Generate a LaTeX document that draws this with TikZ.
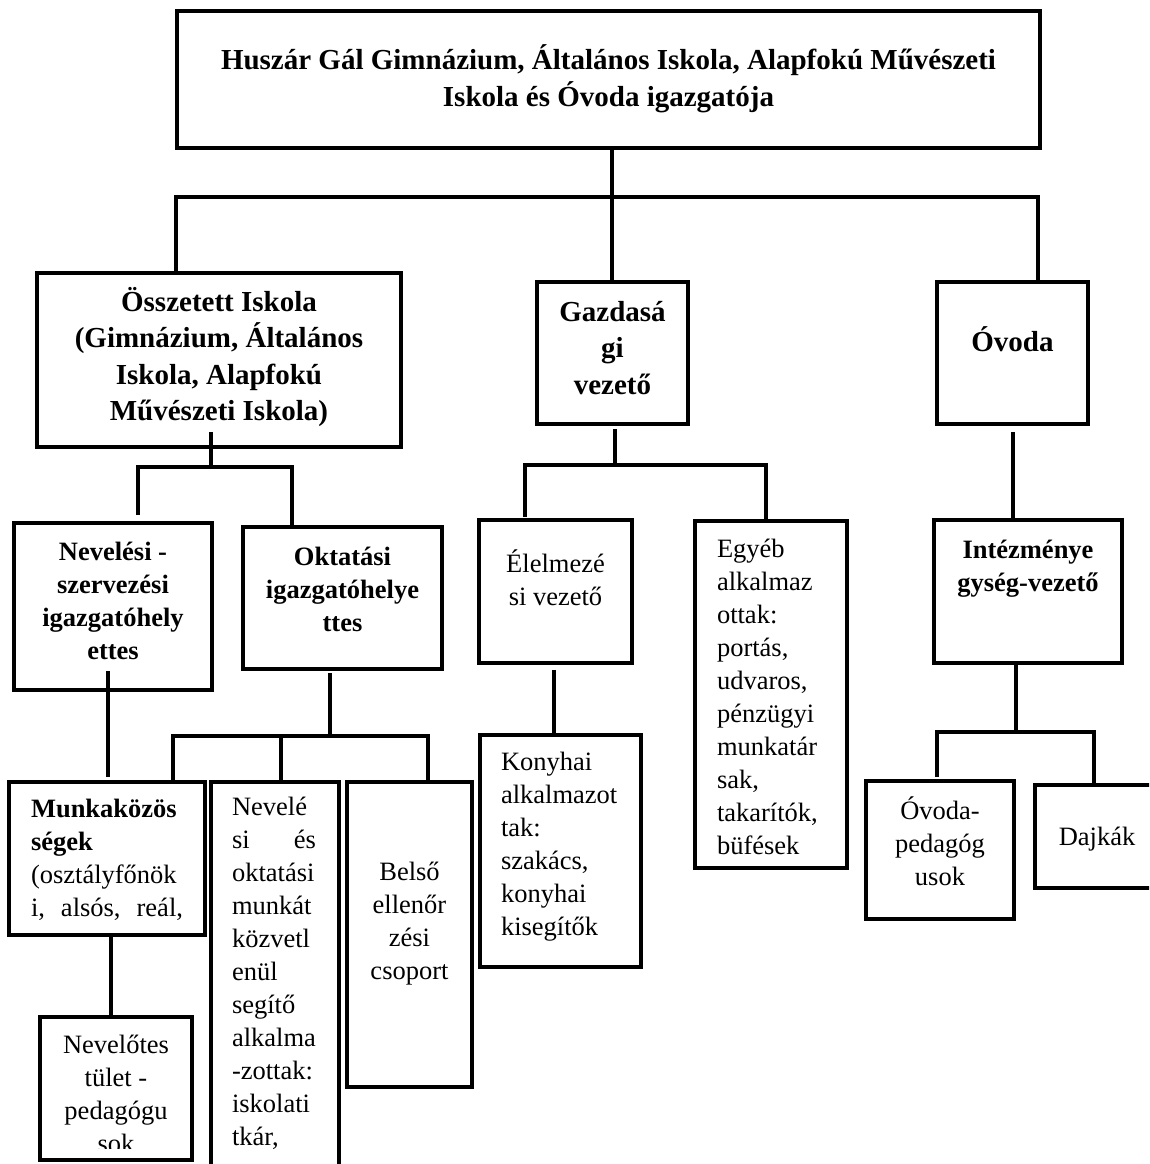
\documentclass[tikz,border=0pt]{standalone}
\usepackage{fontspec}
\setmainfont{Liberation Serif}
\newcommand{\fl}{\rule{0pt}{30pt}}
\tikzset{
  box/.style={draw, line width=4pt, rectangle, inner sep=0pt, outer sep=0pt},
  conn/.style={line width=4pt, line join=miter},
  big/.style={font=\fontsize{29}{36.5}\selectfont\bfseries, inner sep=0pt, outer sep=0pt, align=center, anchor=north},
  nb/.style={font=\fontsize{26.5}{33}\selectfont\bfseries, inner sep=0pt, outer sep=0pt, align=center, anchor=north},
  nr/.style={font=\fontsize{26.5}{33}\selectfont, inner sep=0pt, outer sep=0pt, align=center, anchor=north},
  nrl/.style={font=\fontsize{26.5}{33}\selectfont, inner sep=0pt, outer sep=0pt, align=left, anchor=north west},
}
\begin{document}
\begin{tikzpicture}[x=1pt, y=-1pt]
\useasboundingbox (0,0) rectangle (1149,1164);
\clip (0,0) rectangle (1149,1164);
\fill[white] (0,0) rectangle (1149,1164);

% boxes
\node[box, minimum width=863pt, minimum height=137pt] (top) at (608.5,79.5) {};
\node[box, minimum width=364pt, minimum height=174pt] (ossz) at (219,360) {};
\node[box, minimum width=151pt, minimum height=142pt] (gazd) at (612.5,353) {};
\node[box, minimum width=151pt, minimum height=142pt] (ovoda) at (1012.5,353) {};
\node[box, minimum width=198pt, minimum height=167pt] (nevsz) at (113,606.5) {};
\node[box, minimum width=199pt, minimum height=142pt] (oktat) at (342.5,598) {};
\node[box, minimum width=153pt, minimum height=143pt] (elelm) at (555.5,591.5) {};
\node[box, minimum width=152pt, minimum height=347pt] (egyeb) at (771,694.5) {};
\node[box, minimum width=188pt, minimum height=143pt] (intez) at (1028,591.5) {};
\node[box, minimum width=196pt, minimum height=153pt] (munka) at (107,858.5) {};
\node[box, minimum width=152pt, minimum height=143pt] (nevtest) at (116,1088.5) {};
\node[box, minimum width=128pt, minimum height=438pt] (nevokt) at (275,1001) {};
\node[box, minimum width=125pt, minimum height=305pt] (belso) at (409.5,934.5) {};
\node[box, minimum width=161pt, minimum height=232pt] (konyha) at (560.5,851) {};
\node[box, minimum width=148pt, minimum height=138pt] (ovped) at (940,850) {};
\node[box, minimum width=124pt, minimum height=103pt] (dajka) at (1097,836.5) {};

% texts
\node[big] (top-t) at (608.5,40) {\fl Huszár Gál Gimnázium, Általános Iskola, Alapfokú Művészeti\\Iskola és Óvoda igazgatója};
\node[big] (ossz-t) at (219,281) {\fl Összetett Iskola\\(Gimnázium, Általános\\Iskola, Alapfokú\\Művészeti Iskola)};
\node[big] (gazd-t) at (612.5,291) {\fl Gazdasá\\gi\\vezető};
\node[big] (ovoda-t) at (1012.5,321) {\fl Óvoda};
\node[nb] (nevsz-t) at (113,530) {\fl Nevelési -\\szervezési\\igazgatóhely\\ettes};
\node[nb] (oktat-t) at (342.5,535) {\fl Oktatási\\igazgatóhelye\\ttes};
\node[nr] (elelm-t) at (555.5,542) {\fl Élelmezé\\si vezető};
\node[nrl] (egyeb-t) at (717,527) {\fl Egyéb\\alkalmaz\\ottak:\\portás,\\udvaros,\\pénzügyi\\munkatár\\sak,\\takarítók,\\büfések};
\node[nb] (intez-t) at (1028,528) {\fl Intézménye\\gység-vezető};
\node[nrl] (munka-t) at (31,787) {\fl\textbf{Munkaközös}\\\textbf{ségek}\\(osztályfőnök\\\hbox to 152pt{i,\hfill alsós,\hfill reál,}};
\begin{scope}
\clip (40,1017) rectangle (192,1148);
\node[nr] (nevtest-t) at (116,1023) {\fl Nevelőtes\\tület -\\pedagógu\\sok};
\end{scope}
\node[nrl] (nevokt-t) at (232,785) {\fl Nevelé\\\hbox to 84pt{si\hfill és}\\oktatási\\munkát\\közvetl\\enül\\segítő\\alkalma\\-zottak:\\iskolati\\tkár,};
\node[nr] (belso-t) at (409.5,850) {\fl Belső\\ellenőr\\zési\\csoport};
\node[nrl] (konyha-t) at (501,740) {\fl Konyhai\\alkalmazot\\tak:\\szakács,\\konyhai\\kisegítők};
\node[nr] (ovped-t) at (940,789) {\fl Óvoda-\\pedagóg\\usok};
\node[nr] (dajka-t) at (1097,815) {\fl Dajkák};

% level 1 connectors
\coordinate (h1L) at (176,197);
\coordinate (h1M) at (612,197);
\coordinate (h1R) at (1038,197);
\draw[conn] (top.south -| h1M) -- (h1M);
\draw[conn] (ossz.north -| h1L) -- (h1L) -- (h1R) -- (ovoda.north -| h1R);
\draw[conn] (h1M) -- (gazd.north -| h1M);

% Osszetett
\coordinate (h2L) at (138,467);
\coordinate (h2M) at (211,467);
\coordinate (h2R) at (292,467);
\draw[conn] ([yshift=15pt]ossz.south -| h2M) -- (h2M);
\draw[conn, shorten <=8pt] (nevsz.north -| h2L) -- (h2L) -- (h2R) -- (oktat.north -| h2R);

% Gazdasagi
\coordinate (h3L) at (525,465);
\coordinate (h3M) at (615,465);
\coordinate (h3R) at (766,465);
\draw[conn, shorten <=5pt] (gazd.south -| h3M) -- (h3M);
\draw[conn, shorten <=3pt] (elelm.north -| h3L) -- (h3L) -- (h3R) -- (egyeb.north -| h3R);

% Ovoda
\coordinate (v4) at (1013,500);
\draw[conn, shorten <=8pt] (ovoda.south -| v4) -- (intez.north -| v4);

% Intezmenyegyseg
\coordinate (h5L) at (937,732);
\coordinate (h5M) at (1016,732);
\coordinate (h5R) at (1094,732);
\draw[conn] (intez.south -| h5M) -- (h5M);
\draw[conn, shorten <=4pt] (ovped.north -| h5L) -- (h5L) -- (h5R) -- (dajka.north -| h5R);

% Nevelesi-szervezesi
\coordinate (v6) at (108,700);
\draw[conn, shorten >=5pt] ([yshift=19pt]nevsz.south -| v6) -- (munka.north -| v6);

% Oktatasi
\coordinate (h7L) at (173,736);
\coordinate (h7M) at (330,736);
\coordinate (h7N) at (281,736);
\coordinate (h7R) at (428,736);
\draw[conn, shorten <=4pt] (oktat.south -| h7M) -- (h7M);
\draw[conn] (munka.north -| h7L) -- (h7L) -- (h7R) -- (belso.north -| h7R);
\draw[conn] (h7N) -- (nevokt.north -| h7N);

% Munkakozossegek
\coordinate (v8) at (111,980);
\draw[conn] (munka.south -| v8) -- (nevtest.north -| v8);

% Elelmezesi
\coordinate (v9) at (554,700);
\draw[conn, shorten <=7pt] (elelm.south -| v9) -- (konyha.north -| v9);
\end{tikzpicture}
\end{document}
